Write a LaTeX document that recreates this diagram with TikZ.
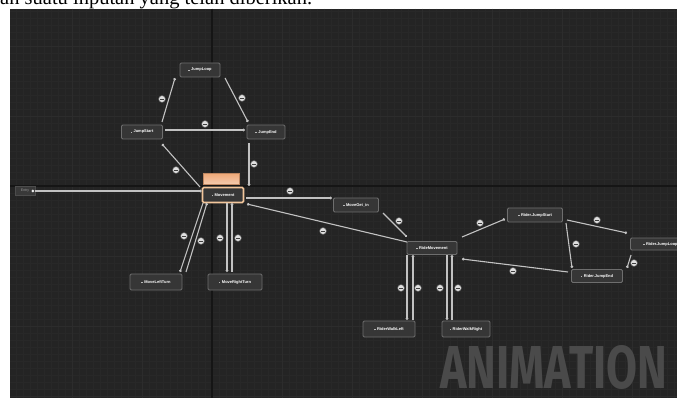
\documentclass[tikz,border=0pt]{standalone}
\usepackage{fontspec}
\setmainfont{Liberation Serif}
\newfontfamily\uifont{Liberation Sans}
\newfontfamily\bigfont{Fira Sans}
\usetikzlibrary{calc,arrows.meta}
\definecolor{bgdark}{HTML}{242424}
\definecolor{gridminor}{HTML}{282828}
\definecolor{gridmajor}{HTML}{2C2C2C}
\definecolor{axisline}{HTML}{151515}
\definecolor{wire}{HTML}{C2C2C2}
\definecolor{boxfill}{HTML}{363636}
\definecolor{boxline}{HTML}{6E6E6E}
\definecolor{orangeline}{HTML}{F2C69C}
\definecolor{orangefill}{HTML}{EFA979}
\definecolor{bigtext}{HTML}{4A4A4A}
\tikzset{
  statebox/.style={rectangle, rounded corners=1.2pt, fill=boxfill, draw=boxline,
    line width=0.9pt, text=white, inner sep=0pt,
    font=\uifont\bfseries\fontsize{4}{4.5}\selectfont},
  wireline/.style={draw=wire, line width=1.1pt, -{Circle[length=2.6pt]}},
  badge/.style={circle, minimum size=7pt, inner sep=0pt, fill=gray!25, draw=black!70,
    line width=0.6pt, path picture={\draw[black!75, line width=0.8pt]
      ([xshift=-1.8pt]path picture bounding box.center) -- ([xshift=1.8pt]path picture bounding box.center);}}
}
\newcommand{\chk}{\textcolor{gray!55}{\rule{1.4pt}{1.4pt}}\hspace{1.5pt}}
\begin{document}
\begin{tikzpicture}[x=1pt,y=-1pt]
\clip (0,0) rectangle (677,398);
\fill[white] (0,0) rectangle (677,398);
\node[anchor=base west, inner sep=0pt, font=\fontsize{20.5}{20.5}\selectfont] (caption) at (0,4.5) {an suatu inputan yang telah diberikan.};
% background and grid
\fill[bgdark] (10,9) rectangle (677,398);
\begin{scope}
\clip (10,9) rectangle (677,398);
\foreach \gx in {16,23,...,677} \draw[gridminor, line width=0.4pt] (\gx,9) -- (\gx,398);
\foreach \gy in {11,18,...,398} \draw[gridminor, line width=0.4pt] (10,\gy) -- (677,\gy);
\foreach \gx in {72,142,...,677} \draw[gridmajor, line width=0.8pt] (\gx,9) -- (\gx,398);
\foreach \gy in {46,116,256,326,396} \draw[gridmajor, line width=0.8pt] (10,\gy) -- (677,\gy);
\draw[axisline, line width=1.6pt] (212,9) -- (212,398);
\draw[axisline, line width=1.6pt] (10,186) -- (677,186);
\end{scope}
% watermark
\node[anchor=north west, inner sep=0pt, text=bigtext] (anim) at (440,345)
  {\resizebox{227pt}{43pt}{\bigfont\bfseries ANIMATION}};
% states
\node[rectangle, fill=gray!45!black, draw=gray!60!black, line width=0.6pt, minimum width=20pt, minimum height=9pt,
  inner sep=0pt, text=gray!80, font=\uifont\fontsize{3.5}{4}\selectfont] (entry) at (25,191) {Entry\hspace{4pt}};
\fill[white!85!gray] ($(entry.east)+(-2.5,0)$) circle (1.5pt);
\node[statebox, minimum width=40pt, minimum height=14pt] (jumploop) at (200,70) {\chk JumpLoop};
\node[statebox, minimum width=41pt, minimum height=14pt] (jumpstart) at (142,132) {\chk JumpStart};
\node[statebox, minimum width=38pt, minimum height=14pt] (jumpend) at (266,132) {\chk JumpEnd};
\node[rectangle, minimum width=36pt, minimum height=11pt, inner sep=0pt, draw=orangefill!80!black, line width=0.5pt,
  top color=orangefill, bottom color=orangefill!60!white] (movhead) at (221,179) {};
\node[statebox, draw=orangeline, line width=1.6pt, minimum width=41pt, minimum height=15pt] (movement) at (223,195) {\chk Movement};
\node[statebox, minimum width=45pt, minimum height=14pt] (moveget) at (356,205) {\chk MoveGet\_in};
\node[statebox, minimum width=50pt, minimum height=13pt] (ridemove) at (432,248) {\chk RideMovement};
\node[statebox, minimum width=55pt, minimum height=14pt] (rjstart) at (535,215) {\chk Rider.JumpStart};
\node[statebox, minimum width=60pt, minimum height=12pt, anchor=west] (rjloop) at (630,244) {\chk Rider.JumpLoop};
\node[statebox, minimum width=51pt, minimum height=13pt] (rjend) at (597,276) {\chk Rider.JumpEnd};
\node[statebox, minimum width=52pt, minimum height=16pt] (mleft) at (156,282) {\chk MoveLeftTurn};
\node[statebox, minimum width=54pt, minimum height=16pt] (mright) at (235,282) {\chk MoveRightTurn};
\node[statebox, minimum width=52pt, minimum height=16pt] (rwleft) at (389,329) {\chk RiderWalkLeft};
\node[statebox, minimum width=48pt, minimum height=16pt] (rwright) at (466,329) {\chk RiderWalkRight};
% transitions
\draw[wireline] (entry.east) -- (entry.east -| movement.west);
\draw[wireline] ($(jumpstart.center)+(20,-10)$) -- ($(jumploop.center)+(-25,8)$);
\draw[wireline] ($(jumploop.center)+(25,8)$) -- ($(jumpend.center)+(-18,-10)$);
\draw[wireline] ($(jumpstart.center)+(23,-2)$) -- ($(jumpend.center)+(-21,-2)$);
\draw[wireline] ($(movement.center)+(-23,-8)$) -- ($(jumpstart.center)+(20,12)$);
\draw[wireline] ($(jumpend.center)+(-17,11)$) -- ($(movement.center)+(26,-9)$);
\draw[wireline] ($(movement.center)+(23,3)$) -- ($(moveget.center)+(-24,-7)$);
\draw[wireline] ($(ridemove.center)+(-25,-6)$) -- ($(movement.center)+(24,9)$);
\draw[wireline] ($(moveget.center)+(27,8)$) -- ($(ridemove.center)+(-25,-11)$);
\draw[wireline] ($(ridemove.center)+(30,-11)$) -- ($(rjstart.center)+(-30,4)$);
\draw[wireline] ($(rjend.center)+(-29,-4)$) -- ($(ridemove.center)+(30,11)$);
\draw[wireline] ($(rjstart.center)+(32,5)$) -- ($(rjloop.west)+(-3,-11)$);
\draw[wireline] ($(rjstart.center)+(31,8)$) -- ($(rjend.center)+(-25,-8)$);
\draw[wireline] ($(rjloop.west)+(1,11)$) -- ($(rjend.center)+(30,-8)$);
\draw[wireline] ($(movement.center)+(-20,8)$) -- ($(mleft.center)+(24,-10)$);
\draw[wireline] ($(mleft.center)+(30,-10)$) -- ($(movement.center)+(-16,8)$);
\draw[wireline] ($(movement.center)+(4,8)$) -- ($(mright.center)+(-8,-10)$);
\draw[wireline] ($(mright.center)+(-3,-10)$) -- ($(movement.center)+(9,8)$);
\draw[wireline] ($(ridemove.center)+(-25,7)$) -- ($(rwleft.center)+(18,-9)$);
\draw[wireline] ($(rwleft.center)+(24,-9)$) -- ($(ridemove.center)+(-19,7)$);
\draw[wireline] ($(ridemove.center)+(15,7)$) -- ($(rwright.center)+(-19,-9)$);
\draw[wireline] ($(rwright.center)+(-14,-9)$) -- ($(ridemove.center)+(20,7)$);
% badges
\node[badge] (b1) at (162,99) {};
\node[badge] (b2) at (242,98) {};
\node[badge] (b3) at (205,124) {};
\node[badge] (b4) at (176,170) {};
\node[badge] (b5) at (254,164) {};
\node[badge] (b6) at (290,191) {};
\node[badge] (b7) at (323,231) {};
\node[badge] (b8) at (399,221) {};
\node[badge] (b9) at (480,223) {};
\node[badge] (b10) at (513,271) {};
\node[badge] (b11) at (597,220) {};
\node[badge] (b12) at (576,244) {};
\node[badge] (b13) at (634,263) {};
\node[badge] (b14) at (184,236) {};
\node[badge] (b15) at (201,241) {};
\node[badge] (b16) at (220,238) {};
\node[badge] (b17) at (238,238) {};
\node[badge] (b18) at (401,288) {};
\node[badge] (b19) at (418,288) {};
\node[badge] (b20) at (440,288) {};
\node[badge] (b21) at (458,288) {};
\end{tikzpicture}
\end{document}
